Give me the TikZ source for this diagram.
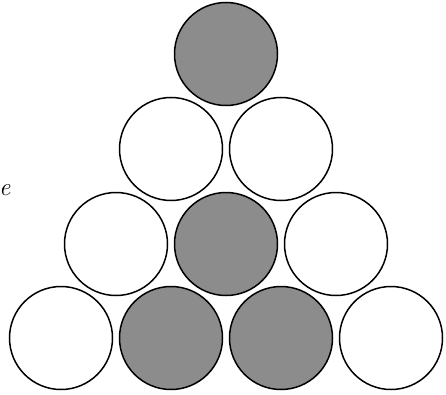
\documentclass[tikz,border=0pt]{standalone}
\usepackage{tikz}

\begin{document}
\begin{tikzpicture}[
    x=1pt, y=1pt,
    ball/.style={
        circle,
        draw,
        line width=1.5pt,
        minimum size=103pt,
        inner sep=0pt
    },
    shaded/.style={ball, fill=black!45}
]
\useasboundingbox (0,0) rectangle (446,394);

% ------------------------
% Top
% ------------------------
\node[shaded] (top) at (226,340) {};

% ------------------------
% Second row
% ------------------------
\node[ball] (rowBleft)  at (171,245) {};
\node[ball] (rowBright) at (281,245) {};

% ------------------------
% Third row
% ------------------------
\node[ball]   (rowCleft)  at (116,150) {};
\node[shaded] (rowCmid)   at (226,150) {};
\node[ball]   (rowCright) at (336,150) {};

% ------------------------
% Bottom row
% ------------------------
\node[ball]   (rowDone)   at (61,56) {};
\node[shaded] (rowDtwo)   at (171,56) {};
\node[shaded] (rowDthree) at (281,56) {};
\node[ball]   (rowDfour)  at (391,56) {};

% ------------------------
% Label
% ------------------------
\node[anchor=base west, inner sep=0pt, font=\fontsize{25}{25}\selectfont\itshape] (lbl) at (-1,199) {e};

\end{tikzpicture}
\end{document}
